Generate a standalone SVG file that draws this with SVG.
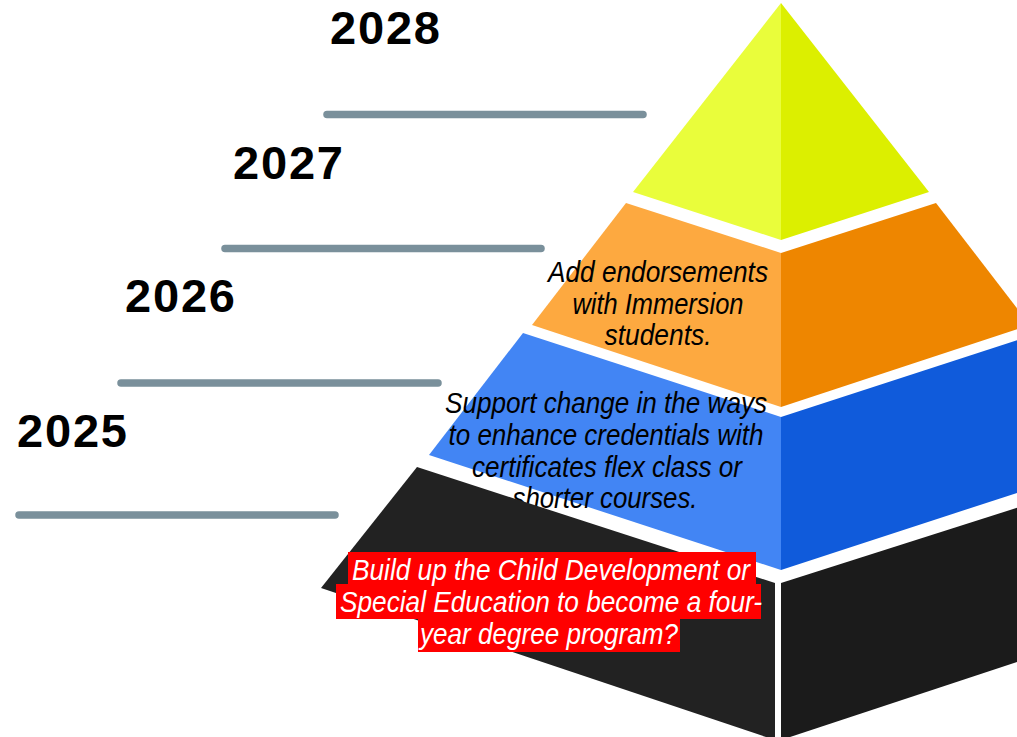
<svg xmlns="http://www.w3.org/2000/svg" width="1017" height="737" viewBox="0 0 1017 737">
  <style>
    .year { font-family: "Liberation Sans", Arial, sans-serif; font-weight: bold; font-size: 47px; fill: #000; }
    .rule { stroke: #7a909b; stroke-width: 7.5; stroke-linecap: round; fill: none; }
    .label { font-family: "Liberation Sans Narrow", "Liberation Sans", Arial, sans-serif; font-style: italic; font-size: 30px; text-anchor: middle; }
    .dark { fill: #000; }
    .light { fill: #fff; }
    .hl { fill: #ff0000; }
  </style>

  <rect width="1017" height="737" fill="#ffffff"/>

  <!-- Timeline rules beside the pyramid -->
  <g id="connectors">
    <line class="rule" x1="327" y1="114.5" x2="643" y2="114.5"/>
    <line class="rule" x1="225" y1="248.5" x2="541" y2="248.5"/>
    <line class="rule" x1="121" y1="383" x2="438" y2="383"/>
    <line class="rule" x1="19" y1="515" x2="335" y2="515"/>
  </g>

  <!-- Year labels -->
  <g id="year-2028"><text class="year" x="330" y="44" textLength="110" lengthAdjust="spacing">2028</text></g>
  <g id="year-2027"><text class="year" x="233" y="179" textLength="110" lengthAdjust="spacing">2027</text></g>
  <g id="year-2026"><text class="year" x="125" y="312" textLength="110" lengthAdjust="spacing">2026</text></g>
  <g id="year-2025"><text class="year" x="17" y="447" textLength="110" lengthAdjust="spacing">2025</text></g>

  <!-- Pyramid tiers, top to bottom -->
  <g id="tier-top">
    <polygon points="781,3 633,192 781,240" fill="#e9fd3b"/>
    <polygon points="781,3 929,192 781,240" fill="#dcef00"/>
  </g>

  <g id="tier-endorsements">
    <polygon points="626,203 781,253 781,407 532,325" fill="#fda940"/>
    <polygon points="781,253 936,203 1030,325 781,407" fill="#ee8600"/>
    <text class="label dark" x="658" y="282" textLength="220" lengthAdjust="spacingAndGlyphs">Add endorsements</text>
    <text class="label dark" x="658" y="314" textLength="171" lengthAdjust="spacingAndGlyphs">with Immersion</text>
    <text class="label dark" x="658" y="345" textLength="107" lengthAdjust="spacingAndGlyphs">students.</text>
  </g>

  <g id="tier-credentials">
    <polygon points="523,333 781,417 781,570 429,455" fill="#4285f4"/>
    <polygon points="781,417 1039,333 1133,455 781,570" fill="#105bdb"/>
    <text class="label dark" x="606" y="413" textLength="322" lengthAdjust="spacingAndGlyphs">Support change in the ways</text>
    <text class="label dark" x="606" y="445" textLength="315" lengthAdjust="spacingAndGlyphs">to enhance credentials with</text>
    <text class="label dark" x="607" y="477" textLength="270" lengthAdjust="spacingAndGlyphs">certificates flex class or</text>
    <text class="label dark" x="605" y="508" textLength="185" lengthAdjust="spacingAndGlyphs">shorter courses.</text>
  </g>

  <g id="tier-degree">
    <polygon points="417,467 775,583 775,740 321,588" fill="#222222"/>
    <polygon points="781,583 1145,467 1241,588 781,740" fill="#1b1b1b"/>
    <rect class="hl" x="348" y="552" width="408" height="32"/>
    <rect class="hl" x="336" y="584" width="425" height="35"/>
    <rect class="hl" x="418" y="619" width="262" height="33"/>
    <text class="label light" x="551" y="580" textLength="398" lengthAdjust="spacingAndGlyphs">Build up the Child Development or</text>
    <text class="label light" x="551" y="612" textLength="422" lengthAdjust="spacingAndGlyphs">Special Education to become a four-</text>
    <text class="label light" x="549" y="644" textLength="258" lengthAdjust="spacingAndGlyphs">year degree program?</text>
  </g>
</svg>
